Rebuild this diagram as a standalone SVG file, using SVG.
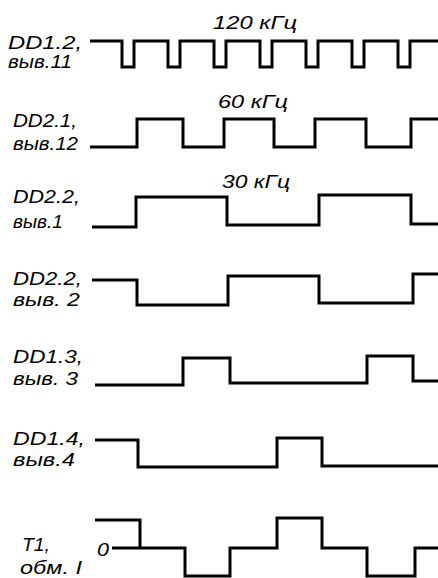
<svg xmlns="http://www.w3.org/2000/svg" width="438" height="578" viewBox="0 0 438 578">
<style>
.w{fill:none;stroke:#000;stroke-width:3;stroke-linejoin:miter;stroke-linecap:butt}
.t{font-family:"Liberation Sans Narrow","Liberation Sans",Arial,sans-serif;font-style:italic;font-size:18px;fill:#000}
.f{font-family:"Liberation Sans Narrow","Liberation Sans",Arial,sans-serif;font-style:italic;font-size:19px;fill:#000}
</style>
<rect width="438" height="578" fill="#fff"/>
<g id="row1">
<text class="t" x="8" y="49" textLength="74" lengthAdjust="spacingAndGlyphs">DD1.2,</text>
<text class="t" x="8" y="68" textLength="64" lengthAdjust="spacingAndGlyphs">выв.11</text>
<text class="f" x="213" y="29" textLength="84" lengthAdjust="spacingAndGlyphs">120 кГц</text>
<path class="w" d="M90,41 H122 V67 H134 V41 H168 V67 H180 V41 H214 V67 H226 V41 H260 V67 H272 V41 H306 V67 H318 V41 H352 V67 H364 V41 H398 V67 H410 V41 H438"/>
</g>
<g id="row2">
<text class="t" x="13" y="127" textLength="64" lengthAdjust="spacingAndGlyphs">DD2.1,</text>
<text class="t" x="13" y="150" textLength="65" lengthAdjust="spacingAndGlyphs">выв.12</text>
<text class="f" x="218" y="108" textLength="70" lengthAdjust="spacingAndGlyphs">60 кГц</text>
<path class="w" d="M90,147 H137 V119 H183 V147 H224 V119 H274 V147 H315 V119 H366 V147 H411 V119 H438"/>
</g>
<g id="row3">
<text class="t" x="13" y="203" textLength="67" lengthAdjust="spacingAndGlyphs">DD2.2,</text>
<text class="t" x="13" y="228" textLength="50" lengthAdjust="spacingAndGlyphs">выв.1</text>
<text class="f" x="222" y="188" textLength="68" lengthAdjust="spacingAndGlyphs">30 кГц</text>
<path class="w" d="M92,227 H136 V197 H227 V225 H319 V195 H411 V224 H438"/>
</g>
<g id="row4">
<text class="t" x="13" y="285" textLength="69" lengthAdjust="spacingAndGlyphs">DD2.2,</text>
<text class="t" x="13" y="306" textLength="67" lengthAdjust="spacingAndGlyphs">выв. 2</text>
<path class="w" d="M92,280 H137 V305 H228 V276 H319 V303 H413 V274 H438"/>
</g>
<g id="row5">
<text class="t" x="13" y="363" textLength="70" lengthAdjust="spacingAndGlyphs">DD1.3,</text>
<text class="t" x="13" y="385" textLength="65" lengthAdjust="spacingAndGlyphs">выв. 3</text>
<path class="w" d="M95,385 H183 V358 H230 V383 H367 V356 H413 V381 H438"/>
</g>
<g id="row6">
<text class="t" x="13" y="445" textLength="72" lengthAdjust="spacingAndGlyphs">DD1.4,</text>
<text class="t" x="13" y="466" textLength="62" lengthAdjust="spacingAndGlyphs">выв.4</text>
<path class="w" d="M95,440 H138 V467 H277 V438 H322 V466 H438"/>
</g>
<g id="row7">
<text class="t" x="22" y="551" textLength="28" lengthAdjust="spacingAndGlyphs">T1,</text>
<text class="t" x="20" y="574" textLength="62" lengthAdjust="spacingAndGlyphs">обм. I</text>
<text class="f" x="97" y="556" textLength="12" lengthAdjust="spacingAndGlyphs">0</text>
<path class="w" d="M95,520 H140 V548"/>
<path class="w" d="M112,548 H185 V576 H230 V548 H277 V518 H322 V548 H367 V576 H415 V548 H438"/>
</g>
</svg>
